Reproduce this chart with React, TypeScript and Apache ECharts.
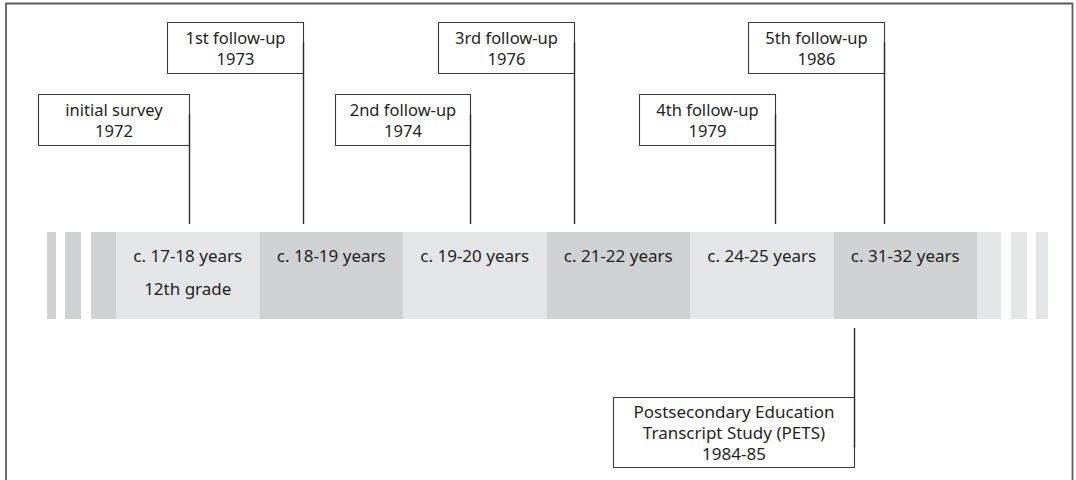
import React, { useEffect, useRef } from "react";
import * as echarts from "echarts";

// ---- data ----
const ageGroups = [
  "c. 17-18 years",
  "c. 18-19 years",
  "c. 19-20 years",
  "c. 21-22 years",
  "c. 24-25 years",
  "c. 31-32 years",
];
const gradeNotes = ["12th grade", "", "", "", "", ""];
const groupStart = [0, 1, 2, 3, 4, 5];
const groupEnd = [1, 2, 3, 4, 5, 6];

const waveNames = [
  ["initial survey"],
  ["1st follow-up"],
  ["2nd follow-up"],
  ["3rd follow-up"],
  ["4th follow-up"],
  ["5th follow-up"],
  ["Postsecondary Education", "Transcript Study (PETS)"],
];
const waveYears = ["1972", "1973", "1974", "1976", "1979", "1986", "1984-85"];
const wavePositions = [0.51, 1.305, 2.465, 3.19, 4.59, 5.35, 5.145];
const waveTiers = [1, 0, 1, 0, 1, 0, 2]; // 0 = upper row, 1 = lower row, 2 = below band

const leftStrips = [
  [-0.48, -0.418],
  [-0.355, -0.244],
  [-0.174, 0],
];
const rightStrips = [
  [6, 6.167],
  [6.237, 6.348],
  [6.411, 6.495],
];

// ---- layout / style ----
const FONT = "Noto Sans";
const BAND_FS = 17;
const BOX_FS = [16.5, 16.5, 17];
const TXT = "#231f20";
const LIGHT = "#e4e5e7";
const DARK = "#d0d1d3";
const BAND_TOP = 232;
const BAND_BOTTOM = 319;
const TIER_TOP = [22, 94, 397];
const TIER_H = [51, 51, 70];
const LINE_STEP = [21, 21, 21];
const BOX_W = [151, 136, 135, 136, 136, 136, 241];

export default function App() {
  const ref = useRef<HTMLDivElement>(null);
  useEffect(() => {
    if (!ref.current) return;
    const chart = echarts.init(ref.current, undefined, { renderer: "svg" });

    const segData = groupStart.map((s, i) => [s, groupEnd[i], i]);
    const stripData = [
      ...leftStrips.map((s) => [s[0], s[1], 1]),
      ...rightStrips.map((s) => [s[0], s[1], 0]),
    ];
    const waveData = wavePositions.map((p, i) => [p, waveTiers[i]]);

    const txt = (text: string, x: number, y: number, fs: number) => ({
      type: "text",
      style: {
        text,
        x,
        y,
        align: "center",
        verticalAlign: "middle",
        font: `${fs}px "${FONT}"`,
        fill: TXT,
      },
    });

    chart.setOption({
      animation: false,
      grid: { left: 44.25, right: 27.25, top: 0, bottom: 0 },
      xAxis: { type: "value", min: -0.5, max: 6.5, show: false },
      yAxis: { type: "value", min: 0, max: 480, inverse: true, show: false },
      graphic: [
        {
          type: "rect",
          shape: { x: 6, y: 3.5, width: 1066.5, height: 600 },
          style: { fill: "none", stroke: "#5c5c5c", lineWidth: 1.8 },
          silent: true,
        },
      ],
      series: [
        {
          type: "custom",
          clip: false,
          data: stripData,
          encode: { x: [0, 1] },
          renderItem: (params: any, api: any) => {
            const a = api.coord([api.value(0), BAND_TOP]);
            const b = api.coord([api.value(1), BAND_BOTTOM]);
            return {
              type: "rect",
              shape: { x: a[0], y: a[1], width: b[0] - a[0], height: b[1] - a[1] },
              style: { fill: api.value(2) === 1 ? DARK : LIGHT },
            };
          },
        },
        {
          type: "custom",
          clip: false,
          data: segData,
          encode: { x: [0, 1] },
          renderItem: (params: any, api: any) => {
            const i = params.dataIndex;
            const a = api.coord([api.value(0), BAND_TOP]);
            const b = api.coord([api.value(1), BAND_BOTTOM]);
            const cx = (a[0] + b[0]) / 2;
            const children: any[] = [
              {
                type: "rect",
                shape: { x: a[0], y: a[1], width: b[0] - a[0], height: b[1] - a[1] },
                style: { fill: i % 2 === 0 ? LIGHT : DARK },
              },
              txt(ageGroups[i], cx, a[1] + 23, BAND_FS),
            ];
            if (gradeNotes[i]) children.push(txt(gradeNotes[i], cx, a[1] + 56, BAND_FS));
            return { type: "group", children };
          },
        },
        {
          type: "custom",
          clip: false,
          data: waveData,
          encode: { x: 0 },
          renderItem: (params: any, api: any) => {
            const i = params.dataIndex;
            const tier = api.value(1);
            const top = api.coord([api.value(0), TIER_TOP[tier]]);
            const px = Math.round(top[0]) + 0.5;
            const h = TIER_H[tier];
            const w = BOX_W[i];
            const boxTop = Math.round(top[1]) + 0.5;
            let lineY1: number, lineY2: number;
            if (tier < 2) {
              lineY1 = boxTop + 20;
              lineY2 = api.coord([0, BAND_TOP - 8])[1];
            } else {
              lineY1 = api.coord([0, BAND_BOTTOM + 9])[1];
              lineY2 = boxTop + h - 20;
            }
            const lines = [...waveNames[i], waveYears[i]];
            const step = LINE_STEP[tier];
            const cy = Math.round(boxTop + h / 2 - 0.5);
            const texts = lines.map((l, k) =>
              txt(l, px - w / 2, cy + (k - (lines.length - 1) / 2) * step, BOX_FS[tier])
            );
            return {
              type: "group",
              children: [
                {
                  type: "rect",
                  shape: { x: px - w, y: boxTop, width: w, height: h },
                  style: { fill: "#fff", stroke: "#3a3a3a", lineWidth: 1.1 },
                },
                {
                  type: "line",
                  shape: { x1: px, y1: lineY1, x2: px, y2: lineY2 },
                  style: { stroke: "#2a2a2a", lineWidth: 1.4 },
                },
                ...texts,
              ],
            };
          },
        },
      ],
    });
    return () => chart.dispose();
  }, []);
  return (
    <div
      ref={ref}
      style={{ position: "fixed", left: 0, top: 0, width: 1076, height: 480, background: "#fff" }}
    />
  );
}
